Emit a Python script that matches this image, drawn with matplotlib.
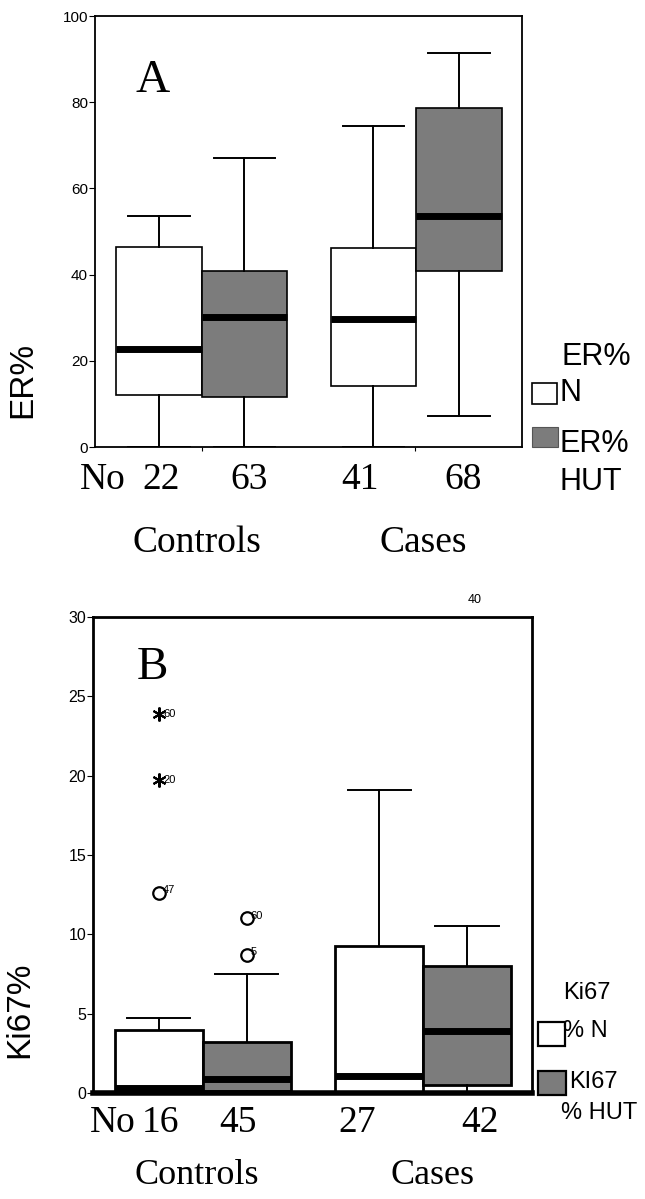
import matplotlib
matplotlib.use("Agg")
import matplotlib.pyplot as plt
from matplotlib.patches import Rectangle

# ---- data ----
positions = [0.75, 1.75, 3.26, 4.26]

er_n = [22, 63, 41, 68]
er_lo = [0, 0, 0, 7.1]
er_q1 = [12.0, 11.6, 14.1, 40.9]
er_med = [22.7, 30.2, 29.7, 53.5]
er_q3 = [46.5, 40.9, 46.2, 78.6]
er_hi = [53.7, 67.1, 74.4, 91.5]

ki_n = [16, 45, 27, 42]
ki_lo = [0, 0, 0, 0]
ki_q1 = [0.0, 0.1, 0.0, 0.5]
ki_med = [0.3, 0.9, 1.05, 3.9]
ki_q3 = [3.95, 3.2, 9.25, 8.0]
ki_hi = [4.7, 7.5, 19.1, 10.5]

# outliers (box index, value, case id)
ki_extreme_box = [0, 0]
ki_extreme_val = [23.9, 19.7]
ki_extreme_id = ["60", "20"]
ki_outlier_box = [0, 1, 1]
ki_outlier_val = [12.6, 11.0, 8.7]
ki_outlier_id = ["47", "60", "5"]

fills = ["white", "#7c7c7c", "white", "#7c7c7c"]
groups = ["Controls", "Cases"]

W, H = 645, 1199
SERIF = "Liberation Serif"
SANS = "Liberation Sans"

fig = plt.figure(figsize=(W / 100, H / 100), dpi=100)


def fx(x):
    return x / W


def fy(y):
    return 1 - y / H


def make_stats(lo, q1, med, q3, hi):
    stats = []
    for i in range(len(med)):
        stats.append(dict(whislo=lo[i], q1=q1[i], med=med[i], q3=q3[i],
                          whishi=hi[i], fliers=[]))
    return stats


def draw_boxes(ax, stats, edge_lw, med_lw):
    bp = ax.bxp(stats, positions=positions, widths=1.0, capwidths=0.72,
                patch_artist=True, showfliers=False,
                boxprops=dict(linewidth=edge_lw, edgecolor="black"),
                whiskerprops=dict(linewidth=1.4, color="black"),
                capprops=dict(linewidth=1.4, color="black"),
                medianprops=dict(linewidth=med_lw, color="black",
                                 solid_capstyle="butt"))
    for patch, c in zip(bp["boxes"], fills):
        patch.set_facecolor(c)
    return bp


# ================= panel A =================
axA = fig.add_axes([fx(95), fy(447), fx(522) - fx(95), fy(16) - fy(447)])
draw_boxes(axA, make_stats(er_lo, er_q1, er_med, er_q3, er_hi), 1.2, 5.0)
axA.set_xlim(0, 5)
axA.set_ylim(0, 100)
axA.set_yticks([0, 20, 40, 60, 80, 100])
axA.set_xticks([1.25, 3.75])
axA.set_xticklabels([])
axA.tick_params(axis="x", length=3, direction="out")
axA.tick_params(axis="y", length=4, pad=1, labelsize=11)
for lab in axA.get_yticklabels():
    lab.set_fontfamily(SANS)
for s in axA.spines.values():
    s.set_linewidth(1.3)
axA.text(0.67, 85, "A", fontsize=34, family=SERIF, ha="center", va="center")

tr = axA.get_xaxis_transform()
axA.text(0.09, -0.077, "No", fontsize=27, family=SERIF, ha="center", va="center", transform=tr)
num_x_A = [0.77, 1.80, 3.10, 4.31]
for xx, n in zip(num_x_A, er_n):
    axA.text(xx, -0.077, str(n), fontsize=27, family=SERIF, ha="center", va="center", transform=tr)
for xx, g in zip([1.19, 3.84], groups):
    axA.text(xx, -0.222, g, fontsize=27, family=SERIF, ha="center", va="center", transform=tr)

fig.text(fx(23), fy(380), "ER%", rotation=90, fontsize=24, family=SANS, ha="center", va="center")

# legend A
fig.text(fx(562), fy(357), "ER%", fontsize=22, family=SANS, ha="left", va="center")
fig.add_artist(Rectangle((fx(532), fy(404)), fx(557) - fx(532), fy(383) - fy(404),
                         transform=fig.transFigure, facecolor="white", edgecolor="black", lw=1.2))
fig.text(fx(559), fy(393), "N", fontsize=22, family=SANS, ha="left", va="center")
fig.add_artist(Rectangle((fx(532), fy(447)), fx(558) - fx(532), fy(427) - fy(447),
                         transform=fig.transFigure, facecolor="#7c7c7c", edgecolor="#555555", lw=0.8))
fig.text(fx(559), fy(444), "ER%", fontsize=22, family=SANS, ha="left", va="center")
fig.text(fx(559), fy(482), "HUT", fontsize=22, family=SANS, ha="left", va="center")

# ================= panel B =================
axB = fig.add_axes([fx(93), fy(1093), fx(532) - fx(93), fy(617) - fy(1093)])
draw_boxes(axB, make_stats(ki_lo, ki_q1, ki_med, ki_q3, ki_hi), 2.0, 5.0)
axB.set_xlim(0, 5)
axB.set_ylim(0, 30)
axB.set_yticks([0, 5, 10, 15, 20, 25, 30])
axB.set_xticks([])
axB.tick_params(axis="y", length=4, pad=1, labelsize=11.5)
for lab in axB.get_yticklabels():
    lab.set_fontfamily(SANS)
for s in axB.spines.values():
    s.set_linewidth(2.0)
axB.spines["bottom"].set_linewidth(4.0)
axB.text(0.68, 26.8, "B", fontsize=34, family=SERIF, ha="center", va="center")

for b, v, cid in zip(ki_extreme_box, ki_extreme_val, ki_extreme_id):
    axB.plot(positions[b], v, marker=(6, 2, 0), markersize=10, color="black", mew=1.5)
    axB.annotate(cid, (positions[b], v), xytext=(3, 0), textcoords="offset points",
                 fontsize=8, family=SANS, ha="left", va="center")
for b, v, cid in zip(ki_outlier_box, ki_outlier_val, ki_outlier_id):
    axB.plot(positions[b], v, marker="o", markersize=9, mfc="white", mec="black", mew=1.6)
    axB.annotate(cid, (positions[b], v), xytext=(3, 2), textcoords="offset points",
                 fontsize=8, family=SANS, ha="left", va="center")
axB.text(4.35, 31.1, "40", fontsize=9, family=SANS, ha="center", va="center", clip_on=False)

trB = axB.get_xaxis_transform()
axB.text(0.23, -0.063, "No", fontsize=27, family=SERIF, ha="center", va="center", transform=trB)
num_x_B = [0.77, 1.65, 3.01, 4.41]
for xx, n in zip(num_x_B, ki_n):
    axB.text(xx, -0.063, str(n), fontsize=27, family=SERIF, ha="center", va="center", transform=trB)
for xx, g in zip([1.18, 3.87], groups):
    axB.text(xx, -0.174, g, fontsize=26, family=SERIF, ha="center", va="center", transform=trB)

fig.text(fx(20), fy(1010), "Ki67%", rotation=90, fontsize=24, family=SANS, ha="center", va="center")

# legend B
fig.text(fx(563), fy(993), "Ki67", fontsize=17, family=SANS, ha="left", va="center")
fig.add_artist(Rectangle((fx(538), fy(1046)), fx(565) - fx(538), fy(1022) - fy(1046),
                         transform=fig.transFigure, facecolor="white", edgecolor="black", lw=1.6))
fig.text(fx(563), fy(1031), "% N", fontsize=17, family=SANS, ha="left", va="center")
fig.add_artist(Rectangle((fx(538), fy(1095)), fx(566) - fx(538), fy(1071) - fy(1095),
                         transform=fig.transFigure, facecolor="#7c7c7c", edgecolor="black", lw=1.6))
fig.text(fx(569), fy(1082), "KI67", fontsize=17, family=SANS, ha="left", va="center")
fig.text(fx(561), fy(1113), "% HUT", fontsize=17, family=SANS, ha="left", va="center")

fig.savefig("out.png", dpi=100)
plt.close(fig)
